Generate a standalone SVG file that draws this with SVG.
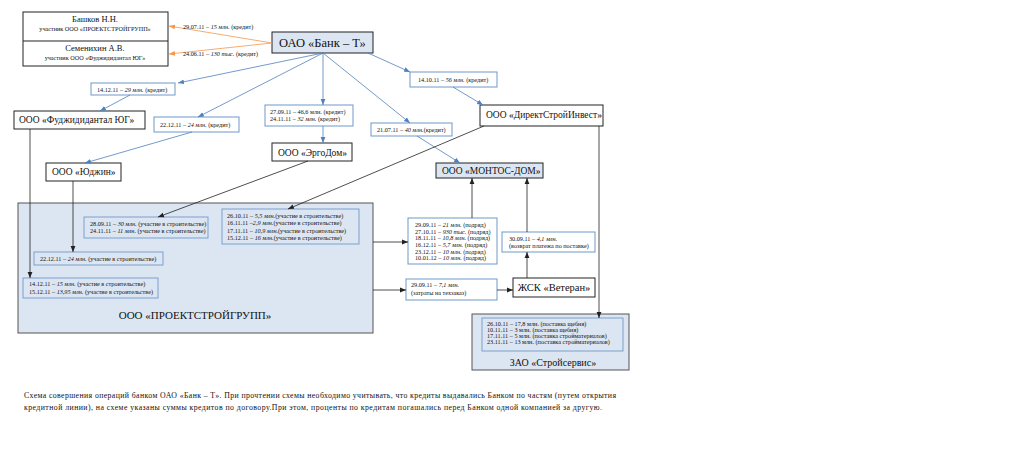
<svg xmlns="http://www.w3.org/2000/svg" width="1022" height="463" viewBox="0 0 1022 463">
<defs>
<style>
text{font-family:"Liberation Serif","Times New Roman",serif;fill:#111}
.nb{fill:#fff;stroke:#222;stroke-width:1}
.nbb{fill:#dce6f2;stroke:#222;stroke-width:1}
.lb{fill:#fff;stroke:#6f97c9;stroke-width:1}
.ib{fill:#dce6f2;stroke:#7ba0cd;stroke-width:1}
.big{fill:#dce6f2;stroke:#555;stroke-width:1}
.s{font-size:6.2px}
.m{font-size:9.5px}
.bl{stroke:#4f81bd;stroke-width:0.8;fill:none;marker-end:url(#ab)}
.or{stroke:#f79646;stroke-width:0.8;fill:none;marker-end:url(#ao)}
.dk{stroke:#222;stroke-width:0.8;fill:none;marker-end:url(#ak)}
.i{font-style:italic}
</style>
<marker id="ab" viewBox="0 0 10 10" refX="10" refY="5" markerWidth="6" markerHeight="6" orient="auto" markerUnits="userSpaceOnUse"><path d="M0,1 L10,5 L0,9 z" fill="#4f81bd"/></marker>
<marker id="ao" viewBox="0 0 10 10" refX="10" refY="5" markerWidth="6" markerHeight="6" orient="auto" markerUnits="userSpaceOnUse"><path d="M0,1 L10,5 L0,9 z" fill="#f79646"/></marker>
<marker id="ak" viewBox="0 0 10 10" refX="10" refY="5" markerWidth="6" markerHeight="6" orient="auto" markerUnits="userSpaceOnUse"><path d="M0,1 L10,5 L0,9 z" fill="#222"/></marker>
</defs>
<rect width="1022" height="463" fill="#fff"/>

<g id="proektstroygroup">
<rect class="big" x="18" y="203" width="355" height="130"/>
<text x="195" y="319" font-size="11" text-anchor="middle">ООО «ПРОЕКТСТРОЙГРУПП»</text>
</g>

<g id="persons">
<rect class="nb" x="23" y="12" width="145" height="54"/>
<line x1="23" y1="41" x2="168" y2="41" stroke="#222" stroke-width="1"/>
<text x="95" y="22" font-size="8.5" text-anchor="middle">Башков Н.Н.</text>
<text x="95" y="30.5" font-size="6.2" text-anchor="middle">участник ООО «ПРОЕКТСТРОЙГРУПП»</text>
<text x="95" y="51" font-size="8.5" text-anchor="middle">Семенихин А.В.</text>
<text x="95" y="59.5" font-size="6.2" text-anchor="middle">участник ООО «Фуджидидантал ЮГ»</text>
</g>

<g id="bank">
<rect class="nbb" x="272" y="32" width="101" height="21"/>
<text x="322.5" y="47" font-size="12.5" text-anchor="middle">ОАО «Банк – Т»</text>
</g>

<g id="fudzhi">
<rect class="nb" x="14" y="111" width="131" height="18"/>
<text x="19" y="123" class="m">ООО «Фуджидидантал ЮГ»</text>
</g>

<g id="yudzhin">
<rect class="nb" x="46" y="163" width="75" height="18"/>
<text x="52" y="175" class="m">ООО «Юджин»</text>
</g>

<g id="ergodom">
<rect class="nb" x="272" y="143" width="80" height="18"/>
<text x="278" y="155.5" class="m">ООО «ЭргоДом»</text>
</g>

<g id="montos">
<rect class="nbb" x="436" y="163" width="107" height="15"/>
<text x="442" y="174" class="m">ООО «МОНТОС-ДОМ»</text>
</g>

<g id="directstroy">
<rect class="nb" x="480" y="105" width="123" height="21"/>
<text x="486" y="118" class="m">ООО «ДиректСтройИнвест»</text>
</g>

<g id="zhsk">
<rect class="nb" x="513" y="278" width="82" height="19"/>
<text x="554" y="291" font-size="10.5" text-anchor="middle">ЖСК «Ветеран»</text>
</g>

<g id="stroyservis">
<rect class="big" x="472" y="314" width="157" height="56"/>
<rect class="ib" x="482" y="318" width="141" height="33"/>
<text class="s" x="487" y="326">26.10.11 – 17,8 млн. (поставка щебня)</text>
<text class="s" x="487" y="332">10.11.11 – 3 млн. (поставка щебня)</text>
<text class="s" x="487" y="338">17.11.11 – 5 млн. (поставка стройматериалов)</text>
<text class="s" x="487" y="344">23.11.11 – 13 млн. (поставка стройматериалов)</text>
<text x="553" y="366" font-size="10" text-anchor="middle">ЗАО «Стройсервис»</text>
</g>

<g id="label-1412">
<rect class="lb" x="91" y="83" width="84" height="12"/>
<text class="s" x="97" y="91.5">14.12.11 – <tspan class="i">29 млн.</tspan> (кредит)</text>
</g>
<g id="label-2212">
<rect class="lb" x="154" y="117" width="85" height="15"/>
<text class="s" x="160" y="127">22.12.11 – <tspan class="i">24 млн.</tspan> (кредит)</text>
</g>
<g id="label-2709">
<rect class="lb" x="265" y="105" width="88" height="21"/>
<text class="s" x="270" y="113.5">27.09.11 – 46,6 млн. (кредит)</text>
<text class="s" x="270" y="120.5">24.11.11 – <tspan class="i">32 млн.</tspan> (кредит)</text>
</g>
<g id="label-2107">
<rect class="lb" x="371" y="123" width="81" height="13"/>
<text class="s" x="377" y="132">21.07.11 – <tspan class="i">40 млн.</tspan>(кредит)</text>
</g>
<g id="label-1410">
<rect class="lb" x="410" y="72" width="87" height="15"/>
<text class="s" x="418" y="82">14.10.11 – <tspan class="i">56 млн.</tspan> (кредит)</text>
</g>

<g id="inner-2809">
<rect class="ib" x="84" y="217" width="124" height="21"/>
<text class="s" x="90" y="226">28.09.11 – <tspan class="i">30 млн.</tspan> (участие в строительстве)</text>
<text class="s" x="90" y="233">24.11.11 – <tspan class="i">11 млн.</tspan> (участие в строительстве)</text>
</g>
<g id="inner-2610">
<rect class="ib" x="222" y="209" width="137" height="35"/>
<text class="s" x="227" y="217.5">26.10.11 – <tspan class="i">5,5 млн.</tspan>(участие в строительстве)</text>
<text class="s" x="227" y="225">16.11.11 –<tspan class="i">2,9 млн.</tspan>(участие в строительстве)</text>
<text class="s" x="227" y="232.5">17.11.11 – <tspan class="i">10,9 млн.</tspan>(участие в строительстве)</text>
<text class="s" x="227" y="240">15.12.11 – <tspan class="i">16 млн.</tspan>(участие в строительстве)</text>
</g>
<g id="inner-2212">
<rect class="ib" x="34" y="252" width="129" height="13"/>
<text class="s" x="40" y="261">22.12.11 – <tspan class="i">24 млн.</tspan> (участие в строительстве)</text>
</g>
<g id="inner-1412">
<rect class="ib" x="23" y="278" width="135" height="20"/>
<text class="s" x="29" y="286">14.12.11 – <tspan class="i">15 млн.</tspan> (участие в строительстве)</text>
<text class="s" x="29" y="293.5">15.12.11 – <tspan class="i">13,95 млн.</tspan> (участие в строительстве)</text>
</g>

<g id="label-podryad">
<rect class="lb" x="408" y="218" width="89" height="46"/>
<text class="s" x="415" y="227">29.09.11 – <tspan class="i">21 млн.</tspan> (подряд)</text>
<text class="s" x="415" y="233.5">27.10.11 – <tspan class="i">930 тыс.</tspan> (подряд)</text>
<text class="s" x="415" y="240">18.11.11 – <tspan class="i">10,8 млн.</tspan> (подряд)</text>
<text class="s" x="415" y="247">16.12.11 – <tspan class="i">5,7 млн.</tspan> (подряд)</text>
<text class="s" x="415" y="253.5">23.12.11 – <tspan class="i">10 млн.</tspan> (подряд)</text>
<text class="s" x="415" y="260">10.01.12 – <tspan class="i">10 млн.</tspan> (подряд)</text>
</g>
<g id="label-vozvrat">
<rect class="lb" x="502" y="232" width="93" height="20"/>
<text class="s" x="509" y="240.5">30.09.11 – <tspan class="i">4,1 млн.</tspan></text>
<text class="s" x="509" y="248">(возврат платежа по поставке)</text>
</g>
<g id="label-tehzakaz">
<rect class="lb" x="406" y="279" width="91" height="21"/>
<text class="s" x="411" y="287">29.09.11 – <tspan class="i">7,1 млн.</tspan></text>
<text class="s" x="411" y="295">(затраты на техзаказ)</text>
</g>

<g id="connectors">
<line class="or" x1="272" y1="43" x2="169" y2="26"/>
<line class="or" x1="272" y1="43" x2="169" y2="54"/>
<text class="s" x="183" y="29">29.07.11 – <tspan class="i">15 млн.</tspan> (кредит)</text>
<text class="s" x="183" y="56">24.06.11 – <tspan class="i">130 тыс.</tspan> (кредит)</text>

<line class="bl" x1="323" y1="53" x2="178" y2="83"/>
<line class="bl" x1="323" y1="53" x2="198" y2="117"/>
<line class="bl" x1="323" y1="53" x2="323" y2="105"/>
<line class="bl" x1="323" y1="53" x2="410" y2="123"/>
<line class="bl" x1="368" y1="53" x2="410" y2="72"/>
<line class="bl" x1="130" y1="95" x2="100" y2="111"/>
<line class="bl" x1="192" y1="132" x2="85" y2="163"/>
<line class="bl" x1="323" y1="126" x2="323" y2="143"/>
<line class="bl" x1="417" y1="136" x2="460" y2="163"/>
<line class="bl" x1="453" y1="87" x2="483" y2="105"/>

<line class="dk" x1="308" y1="161" x2="158" y2="217"/>
<line class="dk" x1="484" y1="126" x2="288" y2="209"/>
<line class="dk" x1="30" y1="129" x2="30" y2="278"/>
<line class="dk" x1="73" y1="181" x2="73" y2="252"/>
<line class="dk" x1="373" y1="242" x2="408" y2="242"/>
<line class="dk" x1="373" y1="290" x2="406" y2="290"/>
<line class="dk" x1="497" y1="290" x2="513" y2="290"/>
<line class="dk" x1="472" y1="218" x2="472" y2="178"/>
<line class="dk" x1="527" y1="278" x2="527" y2="252"/>
<line class="dk" x1="527" y1="232" x2="527" y2="178"/>
<line class="dk" x1="599" y1="126" x2="599" y2="318"/>
</g>

<g id="caption">
<text x="24" y="398" font-size="7.8" textLength="592" lengthAdjust="spacing">Схема совершения операций банком ОАО «Банк – Т». При прочтении схемы необходимо учитывать, что кредиты выдавались Банком по частям (путем открытия</text>
<text x="24" y="410" font-size="7.8" textLength="578" lengthAdjust="spacing">кредитной линии), на схеме указаны суммы кредитов по договору.При этом, проценты по кредитам погашались перед Банком одной компанией за другую.</text>
</g>
</svg>
